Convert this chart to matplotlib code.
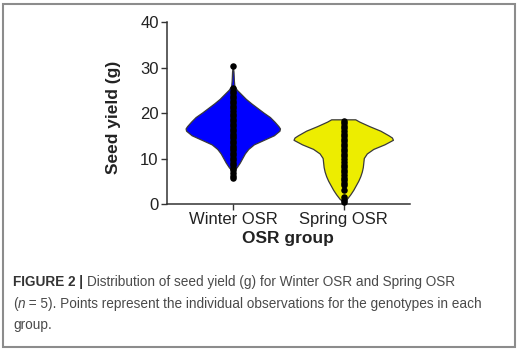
import matplotlib
matplotlib.use("Agg")
import matplotlib.pyplot as plt
import matplotlib.patches as mpatches
import numpy as np

plt.rcParams['font.family'] = ['Liberation Sans', 'DejaVu Sans']

# ---- data ----
categories = ["Winter OSR", "Spring OSR"]
group_colors = ["#0000FF", "#EDED00"]

# violin outlines: yield levels (g) and relative density at each level
winter_levels = [5.6, 6.5, 7.5, 8.0, 9.0, 10.0, 11.0, 12.0, 13.0, 14.0, 15.0, 16.0, 16.5,
                 17.0, 18.0, 19.0, 20.0, 21.0, 22.0, 23.0, 24.0, 25.0, 25.8, 27.0, 28.0, 29.0, 30.3]
winter_density = [0.0, 0.5, 2.0, 4.0, 7.0, 9.5, 12.0, 15.5, 21.0, 31.0, 41.0, 46.5, 47.0,
                  45.5, 41.5, 37.0, 30.5, 24.5, 18.5, 13.0, 8.5, 4.0, 1.6, 1.1, 0.9, 0.7, 0.0]

spring_levels = [0.4, 1.0, 2.0, 3.0, 4.0, 5.0, 6.0, 7.0, 8.0, 9.0, 10.0, 11.0, 12.0,
                 13.0, 14.0, 14.5, 15.0, 16.0, 17.0, 18.0, 18.5]
spring_density = [0.0, 3.5, 7.0, 10.0, 12.5, 15.0, 17.0, 18.5, 19.5, 20.0, 20.5, 23.5, 30.0,
                  41.0, 49.5, 48.5, 45.0, 37.0, 26.0, 16.0, 12.0]

# individual observations (g)
winter_obs = [5.7, 6.2, 6.8, 7.4, 8.0, 8.6, 9.0, 9.7, 10.1, 10.8, 11.2, 11.9, 12.3, 12.8,
              13.5, 13.9, 14.6, 15.0, 15.4, 16.1, 16.5, 17.2, 17.6, 18.3, 18.7, 19.4, 19.8,
              20.5, 21.1, 21.5, 22.2, 22.6, 23.3, 23.7, 24.4, 24.9, 25.5, 30.4]
spring_obs = [0.4, 0.9, 1.6, 3.0, 4.1, 4.6, 5.3, 5.8, 6.4, 7.0, 7.5, 8.2, 8.6, 9.3, 9.8,
              10.5, 10.9, 11.6, 12.1, 12.7, 13.2, 13.8, 14.3, 14.9, 15.4, 16.0, 16.6, 17.1,
              17.7, 18.2]

y_ticks = [0, 10, 20, 30, 40]
y_label = "Seed yield (g)"
x_label = "OSR group"

# ---- figure ----
W, H = 519, 351
fig = plt.figure(figsize=(W / 100, H / 100), dpi=100)
fig.patch.set_facecolor("white")

ax = fig.add_axes([167 / W, 1 - 204 / H, (410 - 167) / W, (204 - 22) / H])
ax.set_xlim(-0.6, 1.6)
ax.set_ylim(0, 40)

max_half = 0.45
dens_max = max(max(winter_density), max(spring_density))
profiles = [(winter_levels, winter_density), (spring_levels, spring_density)]
obs = [winter_obs, spring_obs]

for i, ((lv, dn), col) in enumerate(zip(profiles, group_colors)):
    lv = np.asarray(lv, float)
    hw = np.asarray(dn, float) / dens_max * max_half
    xs = np.concatenate([i - hw, (i + hw)[::-1]])
    ys = np.concatenate([lv, lv[::-1]])
    ax.fill(xs, ys, facecolor=col, edgecolor="#3a3a3a", linewidth=0.9, zorder=2,
            joinstyle="round")

for i, o in enumerate(obs):
    ax.scatter(np.full(len(o), i), o, s=22, color="black", zorder=3,
               linewidths=0, clip_on=False)

ax.set_xticks([0, 1])
ax.set_xticklabels(categories, fontsize=12, color="#222222")
ax.set_yticks(y_ticks)
ax.set_yticklabels([str(t) for t in y_ticks], fontsize=12, color="#222222")
for s in ["top", "right"]:
    ax.spines[s].set_visible(False)
for s in ["left", "bottom"]:
    ax.spines[s].set_color("#333333")
    ax.spines[s].set_linewidth(1.1)
ax.tick_params(axis="both", length=4, width=1.0, color="#333333", pad=2)

ax.set_ylabel(y_label, fontsize=12.5, fontweight="bold", color="#222222", va="center")
ax.yaxis.set_label_coords(-0.222, 0.475)
ax.set_xlabel(x_label, fontsize=12.5, fontweight="bold", color="#222222", va="center")
ax.xaxis.set_label_coords(0.497, -0.19)

# ---- border ----
fig.patches.append(mpatches.Rectangle((2.5 / W, 1 - 346.5 / H), (514.5 - 2.5) / W,
                                      (346.5 - 3.5) / H, transform=fig.transFigure,
                                      fill=False, edgecolor="#8c8c8c", linewidth=1.5))

# ---- caption ----
cap_fs = 9.8
renderer = fig.canvas.get_renderer()


def put_runs(x0, ybase, runs):
    x = x0
    for txt, kw in runs:
        opts = dict(fontsize=cap_fs, color="#4a4a4a", va="baseline", ha="left")
        opts.update(kw)
        t = fig.text(x / W, 1 - ybase / H, txt, **opts)
        bb = t.get_window_extent(renderer=renderer)
        x += bb.width


put_runs(13, 286, [("FIGURE 2 | ", dict(fontweight="bold", color="#333333")),
                   ("Distribution of seed yield (g) for Winter OSR and Spring OSR", {})])
put_runs(13, 308, [("(", {}), ("n", dict(style="italic")),
                   (" = 5). Points represent the individual observations for the genotypes in each", {})])
put_runs(13, 329, [("group.", {})])

fig.savefig("out.png", dpi=100, facecolor="white")
